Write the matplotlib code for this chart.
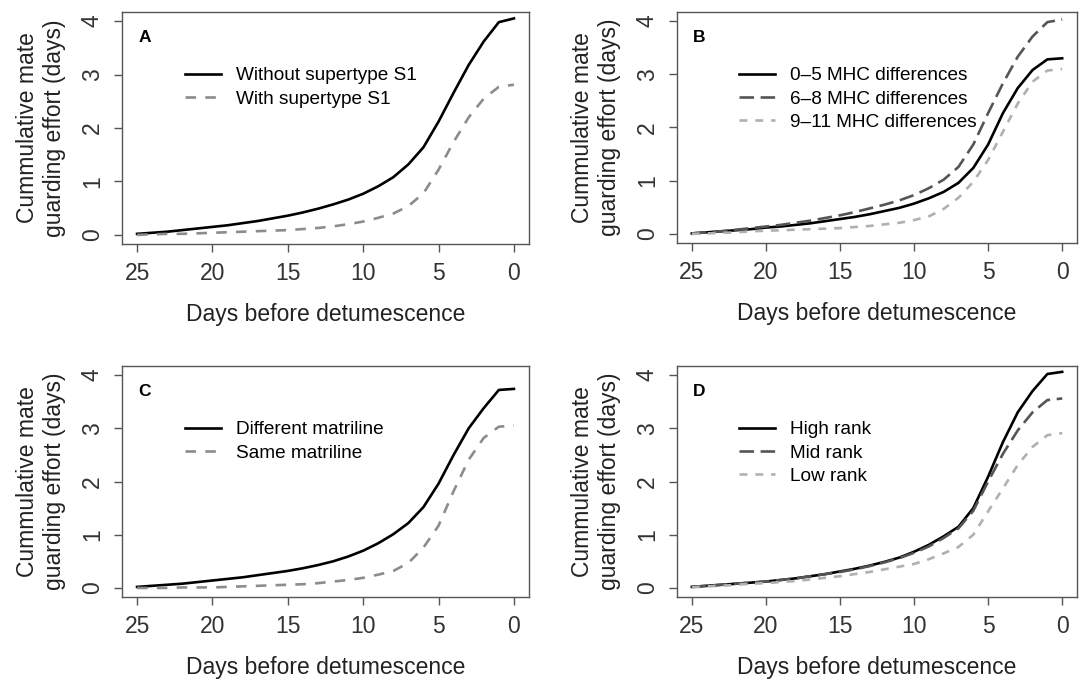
import matplotlib
matplotlib.use("Agg")
import matplotlib.pyplot as plt

plt.rcParams['font.family'] = ['Liberation Sans', 'DejaVu Sans']

days = list(range(25, -1, -1))
x_ticks = [25, 20, 15, 10, 5, 0]
y_ticks = [0, 1, 2, 3, 4]

a_without = [0.02, 0.04, 0.06, 0.09, 0.12, 0.15, 0.18, 0.22, 0.26, 0.31, 0.36, 0.42, 0.49,
             0.57, 0.66, 0.77, 0.91, 1.08, 1.32, 1.64, 2.12, 2.66, 3.18, 3.62, 3.98, 4.05]
a_with = [0.00, 0.01, 0.02, 0.02, 0.03, 0.04, 0.05, 0.06, 0.07, 0.08, 0.09, 0.11, 0.13,
          0.16, 0.20, 0.25, 0.32, 0.40, 0.54, 0.78, 1.22, 1.74, 2.20, 2.55, 2.77, 2.81]

b_0_5 = [0.01, 0.03, 0.05, 0.07, 0.09, 0.12, 0.14, 0.17, 0.20, 0.24, 0.28, 0.32, 0.37,
         0.43, 0.49, 0.57, 0.67, 0.79, 0.96, 1.24, 1.68, 2.27, 2.74, 3.08, 3.28, 3.30]
b_6_8 = [0.01, 0.03, 0.05, 0.08, 0.11, 0.14, 0.17, 0.21, 0.25, 0.30, 0.35, 0.41, 0.48,
         0.55, 0.63, 0.73, 0.86, 1.02, 1.26, 1.68, 2.27, 2.83, 3.33, 3.71, 3.98, 4.03]
b_9_11 = [0.00, 0.01, 0.02, 0.03, 0.05, 0.06, 0.07, 0.08, 0.09, 0.10, 0.11, 0.13, 0.15,
          0.18, 0.21, 0.26, 0.33, 0.47, 0.68, 0.98, 1.39, 1.92, 2.45, 2.86, 3.07, 3.10]

c_different = [0.02, 0.04, 0.06, 0.08, 0.11, 0.14, 0.17, 0.20, 0.24, 0.28, 0.32, 0.37, 0.43,
               0.50, 0.59, 0.70, 0.84, 1.01, 1.22, 1.52, 1.96, 2.50, 3.00, 3.38, 3.72, 3.74]
c_same = [0.00, 0.00, 0.00, 0.01, 0.01, 0.01, 0.02, 0.03, 0.04, 0.05, 0.06, 0.07, 0.09,
          0.12, 0.15, 0.19, 0.25, 0.32, 0.47, 0.76, 1.17, 1.82, 2.41, 2.82, 3.03, 3.05]

d_high = [0.02, 0.04, 0.06, 0.08, 0.10, 0.12, 0.15, 0.18, 0.22, 0.26, 0.31, 0.36, 0.42,
          0.49, 0.57, 0.68, 0.81, 0.97, 1.15, 1.50, 2.09, 2.74, 3.30, 3.70, 4.02, 4.06]
d_mid = [0.02, 0.04, 0.06, 0.08, 0.10, 0.12, 0.15, 0.18, 0.22, 0.26, 0.30, 0.35, 0.41,
         0.48, 0.56, 0.66, 0.78, 0.94, 1.12, 1.45, 2.00, 2.52, 2.96, 3.30, 3.53, 3.56]
d_low = [0.01, 0.03, 0.04, 0.06, 0.08, 0.09, 0.11, 0.13, 0.16, 0.19, 0.22, 0.26, 0.30,
         0.35, 0.40, 0.45, 0.54, 0.65, 0.77, 1.00, 1.44, 1.87, 2.31, 2.65, 2.87, 2.91]

SOLID = dict(color='black', linestyle='-')
GREY = dict(color='#8c8c8c', linestyle=(0, (4, 3.5)))
DARK = dict(color='#555555', linestyle=(0, (5.5, 2.5)))
LIGHT = dict(color='#b0b0b0', linestyle=(0, (3, 3)))

panels = [
    ('A', [(a_without, 'Without supertype S1', SOLID), (a_with, 'With supertype S1', GREY)],
     [122, 12, 529, 244]),
    ('B', [(b_0_5, '0\u20135 MHC differences', SOLID), (b_6_8, '6\u20138 MHC differences', DARK),
           (b_9_11, '9\u201311 MHC differences', LIGHT)],
     [677, 12, 1077, 243]),
    ('C', [(c_different, 'Different matriline', SOLID), (c_same, 'Same matriline', GREY)],
     [122, 366, 529, 597]),
    ('D', [(d_high, 'High rank', SOLID), (d_mid, 'Mid rank', DARK), (d_low, 'Low rank', LIGHT)],
     [677, 366, 1077, 597]),
]

W, H = 1081, 682
fig = plt.figure(figsize=(W / 100, H / 100), dpi=100)

for letter, series, (x0, y0, x1, y1) in panels:
    ax = fig.add_axes([x0 / W, 1 - y1 / H, (x1 - x0) / W, (y1 - y0) / H])
    for vals, lab, style in series:
        ax.plot(days, vals, lw=1.9, label=lab, **style)
    ax.set_xlim(26, -1)
    ax.set_ylim(-0.17, 4.17)
    ax.set_xticks(x_ticks)
    ax.set_yticks(y_ticks)
    for s in ax.spines.values():
        s.set_color('#555555')
        s.set_linewidth(1.0)
    ax.tick_params(axis='both', length=6, width=1.0, color='#555555',
                   labelsize=16.5, labelcolor='#333333')
    ax.tick_params(axis='x', pad=7)
    ax.tick_params(axis='y', pad=7)
    for t in ax.get_yticklabels():
        t.set_rotation(90)
        t.set_va('center')
    ax.set_xlabel('Days before detumescence', fontsize=16.5, labelpad=13, color='#222222')
    ax.set_ylabel('Cummulative mate\nguarding effort (days)', fontsize=16.5,
                  labelpad=11, color='#222222', linespacing=1.2)
    ax.text(0.055, 0.888, letter, transform=ax.transAxes, fontsize=12.5,
            fontweight='bold', ha='center', va='center')
    ax.legend(loc='upper left', bbox_to_anchor=(0.135, 0.795), frameon=False,
              fontsize=13.7, handlelength=1.9, handletextpad=0.8, labelspacing=0.32,
              borderaxespad=0)

fig.savefig('out.png', dpi=100)
